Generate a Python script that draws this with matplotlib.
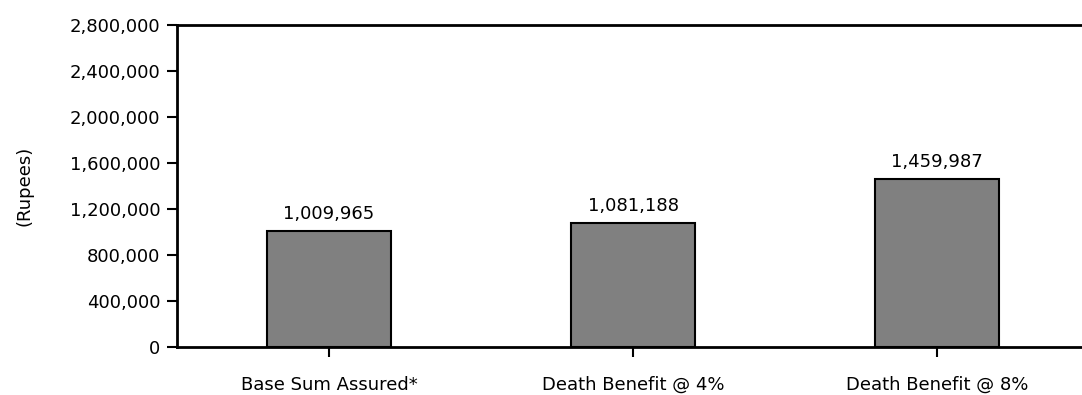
import matplotlib
matplotlib.use("Agg")
import matplotlib.pyplot as plt
from matplotlib.ticker import FuncFormatter

# benefit amounts in rupees
categories = ["Base Sum Assured*", "Death Benefit @ 4%", "Death Benefit @ 8%"]
amounts = [1009965, 1081188, 1459987]
yticks = [0, 400000, 800000, 1200000, 1600000, 2000000, 2400000, 2800000]

plt.rcParams['font.family'] = ['DejaVu Sans']
fs = 13

fig = plt.figure(figsize=(10.82, 3.95), dpi=100)
ax = fig.add_axes([177/1082, 48/395, 912/1082, 322/395])

x = range(len(categories))
bars = ax.bar(x, amounts, width=0.41, color="#808080", edgecolor="black", linewidth=1.5)

for b, v in zip(bars, amounts):
    ax.text(b.get_x() + b.get_width()/2, v + 70000, format(v, ","),
            ha="center", va="bottom", fontsize=fs)

ax.set_xlim(-0.5, 2.5)
ax.set_ylim(0, 2800000)
ax.set_yticks(yticks)
ax.yaxis.set_major_formatter(FuncFormatter(lambda v, p: format(int(v), ",")))
ax.set_xticks(list(x))
ax.set_xticklabels(categories)
ax.tick_params(axis="both", labelsize=fs, width=1.5, length=7, direction="out")
ax.tick_params(axis="y", pad=5)
ax.tick_params(axis="x", pad=14)
ax.set_ylabel("(Rupees)", fontsize=fs, labelpad=26)

for s in ax.spines.values():
    s.set_linewidth(2)

fig.savefig("out.png", dpi=100)
